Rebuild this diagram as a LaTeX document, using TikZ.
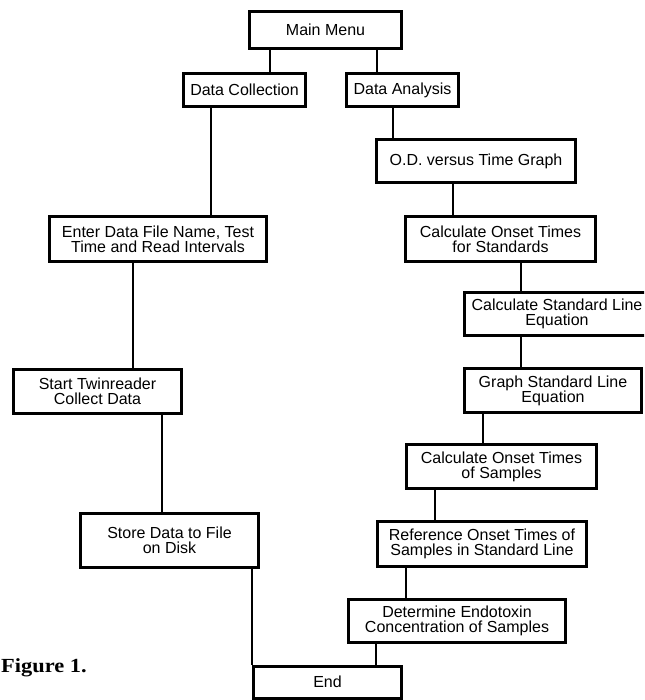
\documentclass[tikz,border=0pt]{standalone}
\usepackage{fontspec}
\setmainfont{Liberation Sans}
\newfontfamily\figfont{Liberation Serif}
\begin{document}
\begin{tikzpicture}[x=1pt,y=-1pt,
  box/.style={draw, line width=3pt, inner sep=0pt, align=center,
    font=\fontsize{16}{15.2}\selectfont},
  link/.style={line width=2.4pt}]
\useasboundingbox (0,0) rectangle (644,700);
\clip (0,0) rectangle (644,700);
% left column
\node[box, minimum width=152pt, minimum height=37pt] (mm) at (325.5,30) {Main Menu};
\node[box, minimum width=122pt, minimum height=33pt] (dc) at (244.5,90) {Data Collection};
\node[box, minimum width=112pt, minimum height=33pt] (da) at (402.5,90) {Data Analysis};
\node[box, minimum width=217pt, minimum height=45pt] (ed) at (158,239) {Enter Data File Name, Test\\Time and Read Intervals};
\node[box, minimum width=168pt, minimum height=44pt] (st) at (97.5,391.5) {Start Twinreader\\Collect Data};
\node[box, minimum width=178pt, minimum height=54pt] (sd) at (169.5,540.5) {Store Data to File\\on Disk};
% right column
\node[box, minimum width=199pt, minimum height=43pt] (od) at (476,161) {O.D. versus Time Graph};
\node[box, minimum width=190pt, minimum height=45pt] (cs) at (500.5,239) {Calculate Onset Times\\for Standards};
\node[box, minimum width=185pt, minimum height=43pt] (cl) at (557,314) {Calculate Standard Line\\Equation};
\node[box, minimum width=177pt, minimum height=44pt] (gl) at (553,390.5) {Graph Standard Line\\Equation};
\node[box, minimum width=190pt, minimum height=44pt] (co) at (501.5,466.5) {Calculate Onset Times\\of Samples};
\node[box, minimum width=209pt, minimum height=45pt] (rf) at (482,544) {Reference Onset Times of\\Samples in Standard Line};
\node[box, minimum width=217pt, minimum height=43pt] (de) at (457,621) {Determine Endotoxin\\Concentration of Samples};
\node[box, minimum width=148pt, minimum height=32pt] (en) at (327.5,682) {End};
% caption
\node[anchor=base west, inner sep=0pt, font=\figfont\bfseries\fontsize{20}{22}\selectfont] (fig) at (1,672) {\scalebox{1.12}[1]{Figure 1.}};
% connectors
\draw[link] (270,0 |- mm.south) -- (270,0 |- dc.north);
\draw[link] (377,0 |- mm.south) -- (377,0 |- da.north);
\draw[link] (211,0 |- dc.south) -- (211,0 |- ed.north);
\draw[link] (133,0 |- ed.south) -- (133,0 |- st.north);
\draw[link] (162,0 |- st.south) -- (162,0 |- sd.north);
\draw[link] (en.north west |- sd.south) -- (en.north west);
\draw[link] (393,0 |- da.south) -- (393,0 |- od.north);
\draw[link] (453,0 |- od.south) -- (453,0 |- cs.north);
\draw[link] (521,0 |- cs.south) -- (521,0 |- cl.north);
\draw[link] (521,0 |- cl.south) -- (521,0 |- gl.north);
\draw[link] (483,0 |- gl.south) -- (483,0 |- co.north);
\draw[link] (435,0 |- co.south) -- (435,0 |- rf.north);
\draw[link] (406,0 |- rf.south) -- (406,0 |- de.north);
\draw[link] (376,0 |- de.south) -- (376,0 |- en.north);
\end{tikzpicture}
\end{document}
